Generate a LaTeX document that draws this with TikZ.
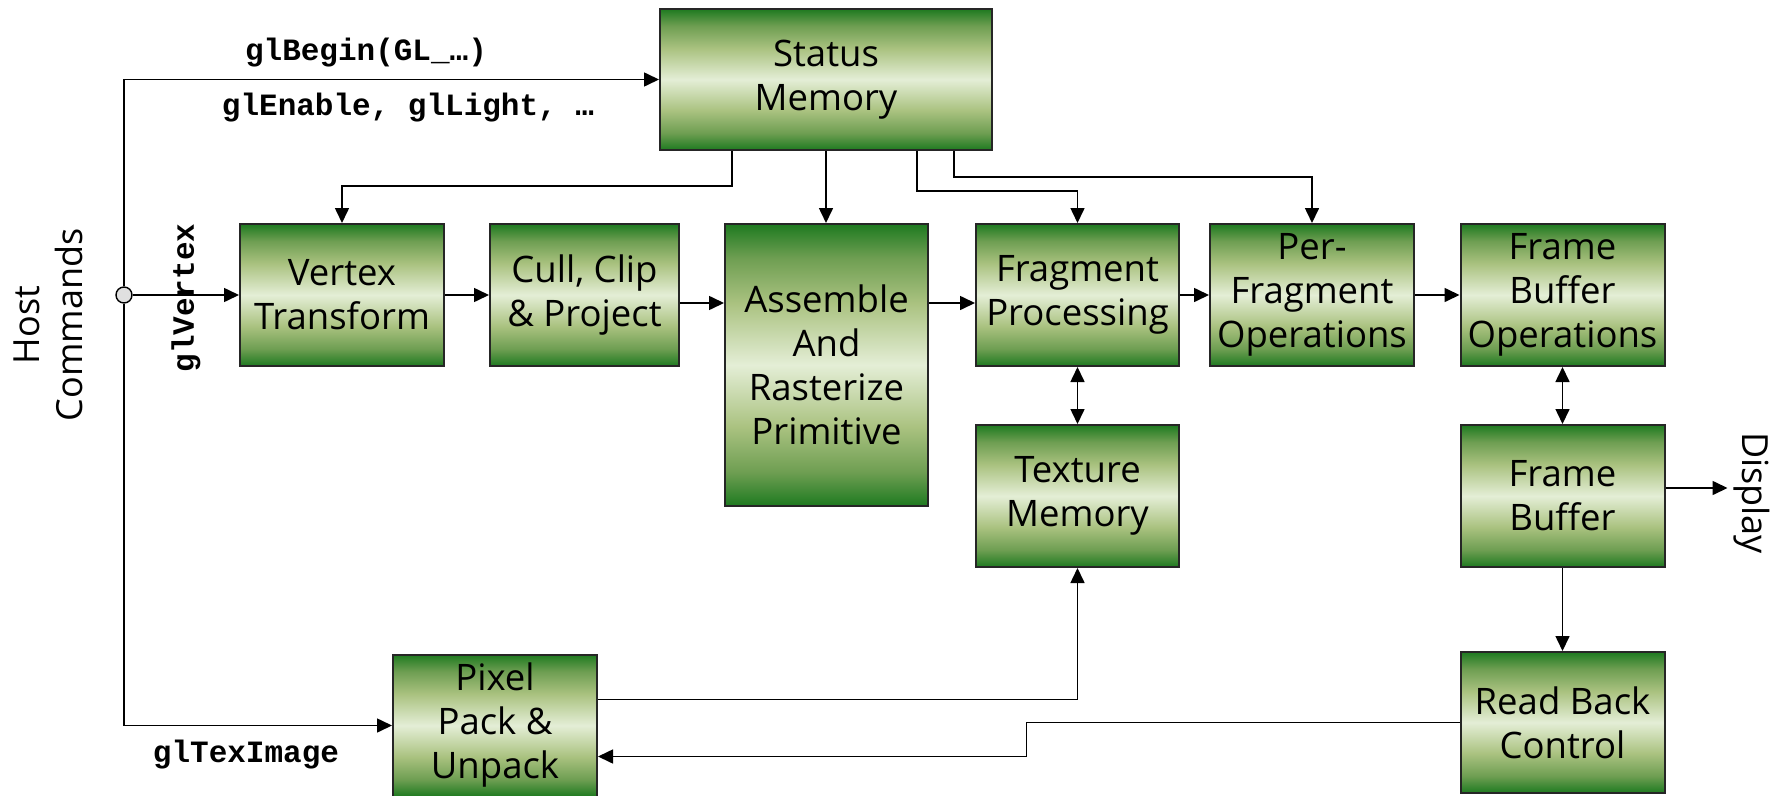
\documentclass[tikz,border=0pt]{standalone}
\usepackage{fontspec}
\setmainfont{Open Sans}
\newfontfamily\codefont{Liberation Mono}
\usetikzlibrary{arrows.meta}

\definecolor{boxdark}{RGB}{30,122,32}
\definecolor{boxmid}{RGB}{110,158,82}
\definecolor{boxolive}{RGB}{170,194,128}
\definecolor{boxlight}{RGB}{228,238,214}
\pgfdeclareverticalshading{boxshade}{100bp}{color(0bp)=(boxdark); color(25bp)=(boxdark); color(31bp)=(boxmid); color(39bp)=(boxolive); color(50bp)=(boxlight); color(61bp)=(boxolive); color(69bp)=(boxmid); color(75bp)=(boxdark); color(100bp)=(boxdark)}

\tikzset{
  stage/.style={draw=black!85, line width=2pt, shading=boxshade, align=center,
    inner sep=0pt, minimum width=204pt, minimum height=142pt,
    font=\fontsize{36.5}{44}\selectfont},
  cmd/.style={font=\codefont\bfseries\fontsize{31}{31}\selectfont},
  side/.style={align=center, font=\fontsize{36}{43}\selectfont},
  wire/.style={line width=1.6pt},
  arr/.style={wire, -{Triangle[length=15pt,width=14pt]}},
  darr/.style={wire, {Triangle[length=15pt,width=14pt]}-{Triangle[length=15pt,width=14pt]}},
}

\begin{document}
\begin{tikzpicture}[x=1pt,y=-1pt]
  \useasboundingbox (0,0) rectangle (1780,795);

  % pipeline stages
  \node [stage, minimum width=332pt, minimum height=141pt] (status) at (826,79.5) {Status\\Memory};
  \node [stage] (vertex) at (342,295) {Vertex\\Transform};
  \node [stage, minimum width=189pt] (cull) at (584.5,295) {Cull, Clip\\\& Project};
  \node [stage, minimum width=203pt, minimum height=282pt] (assemble) at (826.5,365) {Assemble\\And\\Rasterize\\Primitive};
  \node [stage, minimum width=203pt] (frag) at (1077.5,295) {Fragment\\Processing};
  \node [stage, minimum width=204pt] (perfrag) at (1312,295) {Per-\\Fragment\\Operations};
  \node [stage] (fbo) at (1562.5,295) {Frame\\Buffer\\Operations};
  \node [stage, minimum width=203pt] (texture) at (1077.5,496) {Texture\\Memory};
  \node [stage] (fb) at (1562.5,496) {Frame\\Buffer};
  \node [stage, minimum height=141pt] (readback) at (1562.5,722.5) {Read Back\\Control};
  \node [stage] (pixel) at (495,725.5) {Pixel\\Pack \&\\Unpack};

  % host side
  \node [draw, line width=1.4pt, fill=black!12, circle, inner sep=0pt, minimum size=16pt] (junction) at (124,295) {};
  \node [side, rotate=90] (host) at (48,325) {Host\\Commands};
  \node [cmd] (begin) at (366,53) {glBegin(GL\_…)};
  \node [cmd] (enable) at (408,108) {glEnable, glLight, …};
  \node [cmd, rotate=90] (vtx) at (186,298) {glVertex};
  \node [cmd] (teximage) at (246,755) {glTexImage};
  \node [side, rotate=-90] (display) at (1752,493) {Display};

  \draw [arr] (junction.north) |- (status.west);
  \draw [arr] (junction.east) -- (vertex.west);
  \draw [arr] (junction.south) |- (pixel.west);

  % main flow
  \draw [arr] (vertex) -- (cull);
  \draw [arr] ([yshift=-8pt]cull.east) -- ([yshift=-8pt]cull.east -| assemble.west);
  \draw [arr] ([yshift=-8pt]frag.west -| assemble.east) -- ([yshift=-8pt]frag.west);
  \draw [arr] (frag) -- (perfrag);
  \draw [arr] (perfrag) -- (fbo);
  \draw [darr] (frag) -- (texture);
  \draw [darr] (fbo) -- (fb);
  \draw [arr] ([yshift=8pt]fb.east) -- ++(62,0) coordinate (out);
  \draw [arr] (fb) -- (readback);

  % status memory feeds
  \draw [arr] ([xshift=-94pt]status.south) -- ++(0,35) -| (vertex.north);
  \draw [arr] (status.south) -- (status.south |- assemble.north);
  \draw [arr] ([xshift=91pt]status.south) -- ++(0,40) -| (frag.north);
  \draw [arr] ([xshift=128pt]status.south) -- ++(0,26) -| (perfrag.north);

  % pixel paths
  \draw [arr] ([yshift=26pt]pixel.east) -| (texture.south);
  \draw [arr] (readback.west) -- ++(-433,0) |- ([yshift=-31pt]pixel.east);
\end{tikzpicture}
\end{document}
